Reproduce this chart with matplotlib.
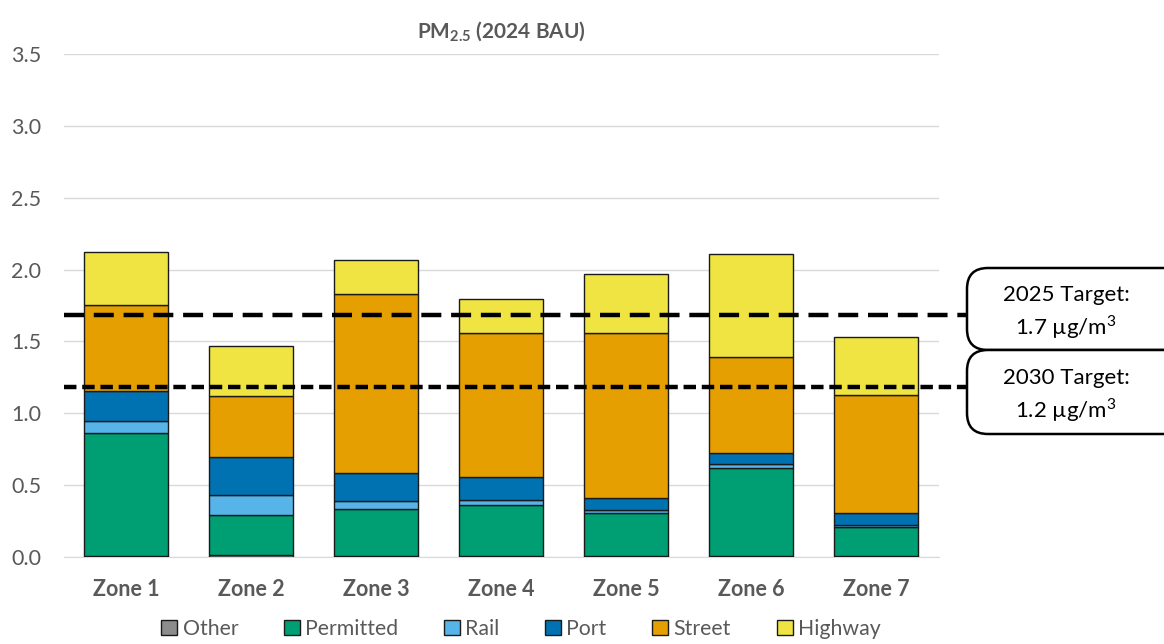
import matplotlib

matplotlib.use("Agg")
import matplotlib.pyplot as plt
import numpy as np
from matplotlib.patches import FancyBboxPatch, Patch
from matplotlib.transforms import blended_transform_factory

plt.rcParams["font.family"] = ["Lato", "DejaVu Sans"]
plt.rcParams["mathtext.fontset"] = "custom"
plt.rcParams["mathtext.rm"] = "Lato"
plt.rcParams["mathtext.bf"] = "Lato:bold"

zones = ["Zone 1", "Zone 2", "Zone 3", "Zone 4", "Zone 5", "Zone 6", "Zone 7"]
sources = ["Other", "Permitted", "Rail", "Port", "Street", "Highway"]
colors = ["#8C8C8C", "#009E73", "#56B4E9", "#0072B2", "#E69F00", "#F0E442"]

other = [0.005, 0.015, 0.005, 0.005, 0.008, 0.005, 0.005]
permitted = [0.858, 0.277, 0.327, 0.355, 0.296, 0.614, 0.202]
rail = [0.08, 0.138, 0.06, 0.04, 0.021, 0.026, 0.018]
port = [0.21, 0.266, 0.19, 0.155, 0.083, 0.079, 0.079]
street = [0.599, 0.424, 1.248, 1.005, 1.152, 0.666, 0.826]
highway = [0.368, 0.35, 0.24, 0.235, 0.41, 0.72, 0.40]

targets = [1.685, 1.185]
target_labels = [r"2025 Target:" "\n" r"1.7 µg/m$^{3}$", r"2030 Target:" "\n" r"1.2 µg/m$^{3}$"]

W, H = 1164, 644
fig = plt.figure(figsize=(W / 100, H / 100), dpi=100)
ax = fig.add_axes([63.5 / W, 1 - 557 / H, 875 / W, 503 / H])

x = np.arange(len(zones))
bottom = np.zeros(len(zones))
for name, vals, col in zip(sources, [other, permitted, rail, port, street, highway], colors):
    ax.bar(x, vals, 0.67, bottom=bottom, color=col, edgecolor="#1a1a1a", linewidth=1.0,
           label=name, zorder=3)
    bottom += np.array(vals)

ax.set_xlim(-0.5, len(zones) - 0.5)
ax.set_ylim(0, 3.5)
ax.set_yticks(np.arange(0, 3.51, 0.5))
ax.set_yticklabels([f"{v:.1f}" for v in np.arange(0, 3.51, 0.5)])
ax.set_xticks(x)
ax.set_xticklabels(zones, fontweight="bold")
ax.tick_params(axis="both", length=0, labelsize=15.5, colors="#595959")
ax.tick_params(axis="x", pad=16)
ax.tick_params(axis="y", pad=16)
ax.grid(True, axis="y", color="#D9D9D9", linewidth=1, zorder=0)
for s in ["top", "right", "left"]:
    ax.spines[s].set_visible(False)
ax.spines["bottom"].set_color("#D9D9D9")
ax.set_title(r"$\mathbf{PM_{2.5}}$ (2024 BAU)", fontsize=15, fontweight="bold",
             color="#595959", pad=12)

# target lines running out to the label boxes
tr = blended_transform_factory(ax.transAxes, ax.transData)
ax.plot([0, 1.033], [targets[0]] * 2, color="black", lw=3.2, dashes=(4.5, 2.2),
        transform=tr, clip_on=False, zorder=5)
ax.plot([0, 1.033], [targets[1]] * 2, color="black", lw=3.2, dashes=(2.8, 1.3),
        transform=tr, clip_on=False, zorder=5)

for (y0, y1), label in zip([(268, 350), (350, 434)], target_labels):
    box = FancyBboxPatch((967 / W, 1 - y1 / H), 230 / W, (y1 - y0) / H,
                         boxstyle="round,pad=0,rounding_size=0.018",
                         transform=fig.transFigure, facecolor="white",
                         edgecolor="black", linewidth=1.8, mutation_aspect=W / H)
    fig.patches.append(box)
    fig.text(1066 / W, 1 - ((y0 + y1) / 2 + 4) / H, label, ha="center", va="center",
             fontsize=16, color="black", linespacing=1.35)

handles = [Patch(facecolor=c, edgecolor="#1a1a1a", label=s) for s, c in zip(sources, colors)]
fig.legend(handles=handles, loc="center", bbox_to_anchor=(521 / W, 1 - 629 / H), ncol=6,
           frameon=False, fontsize=15.3, handlelength=0.75, handleheight=0.75,
           handletextpad=0.25, columnspacing=2.15, labelcolor="#595959")

fig.savefig("out.png", dpi=100)
